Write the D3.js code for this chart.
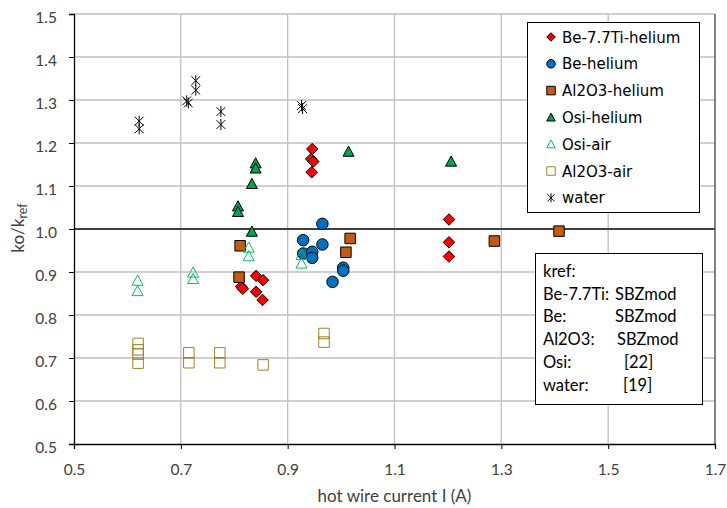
<!DOCTYPE html>
<html><head><meta charset="utf-8">
<script src="https://cdn.jsdelivr.net/npm/d3@7"></script>
<style>body{margin:0;background:#fff}svg{display:block}</style>
</head><body>
<svg id="c" width="727" height="508"></svg>
<script>
// ---- data ----
const xTicks = [0.5,0.7,0.9,1.1,1.3,1.5,1.7];
const yTicks = [0.5,0.6,0.7,0.8,0.9,1.0,1.1,1.2,1.3,1.4,1.5];
const seriesNames = ["Be-7.7Ti-helium","Be-helium","Al2O3-helium","Osi-helium","Osi-air","Al2O3-air","water"];
const be77Ti = [[0.946,1.186],[0.944,1.163],[0.948,1.157],[0.945,1.132],[1.202,1.022],[1.202,0.969],[1.202,0.936],
  [0.841,0.891],[0.854,0.881],[0.813,0.866],[0.816,0.861],[0.841,0.854],[0.853,0.835]];
const beHe = [[0.965,1.012],[0.929,0.974],[0.965,0.964],[0.929,0.943],[0.946,0.947],[0.946,0.933],[1.004,0.910],[1.004,0.903],[0.984,0.877]];
const al2o3He = [[1.287,0.972],[1.408,0.995],[1.017,0.978],[1.009,0.946],[0.811,0.961],[0.809,0.888]];
const osiHe = [[0.840,1.153],[0.840,1.141],[0.833,1.105],[0.807,1.053],[0.807,1.040],[0.833,0.994],[1.014,1.180],[1.206,1.157]];
const osiAir = [[0.827,0.957],[0.827,0.937],[0.723,0.899],[0.723,0.884],[0.926,0.940],[0.926,0.920],[0.619,0.880],[0.619,0.856]];
const al2o3Air = [[0.620,0.734],[0.620,0.719],[0.620,0.709],[0.620,0.688],[0.715,0.712],[0.715,0.689],[0.773,0.712],[0.773,0.689],[0.854,0.684],[0.968,0.757],[0.968,0.737]];
const water = [[0.622,1.251],[0.622,1.233],[0.728,1.345],[0.728,1.323],[0.711,1.298],[0.714,1.293],[0.775,1.273],[0.775,1.243],[0.926,1.287],[0.928,1.280]];
const krefLabels = ["Be-7.7Ti:","Be:","Al2O3:","Osi:","water:"];
const krefValues = ["SBZmod","SBZmod","SBZmod","[22]","[19]"];

// ---- styles ----
const styles = [
  {data:be77Ti, type:"diamond", fill:"#ff0000", stroke:"#000", size:11.5},
  {data:beHe, type:"circle", fill:"#0070c0", stroke:"#000", size:11.5},
  {data:al2o3He, type:"square", fill:"#c55a11", stroke:"#000", size:10.5},
  {data:osiHe, type:"triangle", fill:"#00a550", stroke:"#000", size:11},
  {data:osiAir, type:"triangle", fill:"none", stroke:"#00c060", size:11},
  {data:al2o3Air, type:"square", fill:"none", stroke:"#a08028", size:10.5},
  {data:water, type:"star", fill:"none", stroke:"#000", size:11}
];

const svg = d3.select("#c");
const x = d3.scaleLinear().domain([0.5,1.7]).range([74,715]);
const y = d3.scaleLinear().domain([0.5,1.5]).range([444,14]);
const font = "Lato, 'Open Sans', sans-serif";

// gridlines
svg.append("g").selectAll("line").data(yTicks.filter(d=>d>0.5&&Math.abs(d-1)>1e-9)).join("line")
  .attr("x1",x(0.5)).attr("x2",x(1.7)).attr("y1",d=>y(d)).attr("y2",d=>y(d))
  .attr("stroke","#c0c0c0").attr("stroke-width",1.3);
svg.append("g").selectAll("line").data(xTicks.filter(d=>d>0.5&&d<1.69)).join("line")
  .attr("x1",d=>x(d)).attr("x2",d=>x(d)).attr("y1",y(0.5)).attr("y2",y(1.5))
  .attr("stroke","#c0c0c0").attr("stroke-width",1.3);
svg.append("line").attr("x1",x(1.7)).attr("x2",x(1.7)).attr("y1",y(0.5)).attr("y2",y(1.5)).attr("stroke","#404040").attr("stroke-width",1.3);
svg.append("line").attr("x1",x(0.5)).attr("x2",x(1.7)).attr("y1",y(1.0)).attr("y2",y(1.0)).attr("stroke","#404040").attr("stroke-width",2);

// axes
const xAxis = svg.append("g").attr("transform",`translate(0,${y(0.5)})`)
  .call(d3.axisBottom(x).tickValues(xTicks).tickFormat(d3.format(".1f")).tickSizeOuter(0).tickSize(5).tickPadding(15));
const yAxis = svg.append("g").attr("transform",`translate(${x(0.5)},0)`)
  .call(d3.axisLeft(y).tickValues(yTicks).tickFormat(d3.format(".1f")).tickSizeOuter(0).tickSize(5).tickPadding(12));
[xAxis,yAxis].forEach(a=>{
  a.select(".domain").attr("stroke","#000").attr("stroke-width",1.3);
  a.selectAll(".tick line").attr("stroke","#000").attr("stroke-width",1);
  a.selectAll(".tick text").attr("font-family",font).attr("font-size",15.5).attr("fill","#404040");
});
yAxis.selectAll(".tick text").attr("dy","0.52em");

// axis titles
svg.append("text").attr("x",(x(0.5)+x(1.7))/2).attr("y",502).attr("text-anchor","middle")
  .attr("font-family",font).attr("font-size",17).attr("fill","#404040").text("hot wire current I (A)");
const yl = svg.append("text").attr("transform",`translate(24,${y(1.0)-1}) rotate(-90)`).attr("text-anchor","middle")
  .attr("font-family",font).attr("font-size",17).attr("fill","#404040");
yl.append("tspan").text("ko/k");
yl.append("tspan").attr("font-size",12.5).attr("dy",3).text("ref");

// marker
function markerPath(type,s){
  const h=s/2;
  if(type==="diamond") return `M0,${-h}L${h},0L0,${h}L${-h},0Z`;
  if(type==="square") return `M${-h},${-h}H${h}V${h}H${-h}Z`;
  if(type==="circle") return d3.symbol(d3.symbolCircle, Math.PI*h*h)();
  if(type==="triangle") return `M0,${-h}L${h},${h*0.85}L${-h},${h*0.85}Z`;
  if(type==="star"){const a=h*0.8;return `M${-a},${-a}L${a},${a}M${-a},${a}L${a},${-a}M0,${-h}V${h}`;}
}
const plot = svg.append("g");
styles.forEach(st=>{
  plot.append("g").selectAll("path").data(st.data).join("path")
    .attr("transform",d=>`translate(${x(d[0])},${y(d[1])})`)
    .attr("d",markerPath(st.type,st.size))
    .attr("fill",st.fill).attr("stroke",st.stroke).attr("stroke-width",1);
});

// legend
const lg = svg.append("g");
lg.append("rect").attr("x",527.5).attr("y",22.5).attr("width",172).attr("height",190).attr("fill","#fff").attr("stroke","#000");
seriesNames.forEach((n,i)=>{
  const st=styles[i]; const cy=37+i*26.8;
  lg.append("path").attr("transform",`translate(551,${cy})`).attr("d",markerPath(st.type,st.type==="star"?9:8.5))
    .attr("fill",st.fill).attr("stroke",st.stroke);
  lg.append("text").attr("x",562).attr("y",cy+5.5).attr("font-family","'DejaVu Sans'").attr("font-size",15).attr("fill","#000").text(n);
});

// kref box
const kb = svg.append("g");
kb.append("rect").attr("x",535.5).attr("y",253.5).attr("width",167).attr("height",151).attr("fill","#fff").attr("stroke","#000");
kb.append("text").attr("x",543).attr("y",277).attr("font-family",font).attr("font-size",16.5).attr("fill","#000").text("kref:");
const valX=[615,615,617,624,623];
krefLabels.forEach((l,i)=>{
  const ty=277+(i+1)*22.7;
  kb.append("text").attr("x",543).attr("y",ty).attr("font-family",font).attr("font-size",16.5).attr("fill","#000").text(l);
  kb.append("text").attr("x",valX[i]).attr("y",ty).attr("font-family",font).attr("font-size",16.5).attr("fill","#000").text(krefValues[i]);
});
</script>
</body></html>
